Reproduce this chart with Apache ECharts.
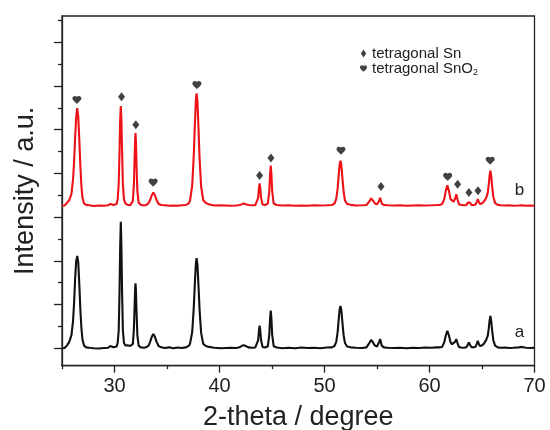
<!DOCTYPE html>
<html><head><meta charset="utf-8">
<script src="https://cdn.jsdelivr.net/npm/echarts@6/dist/echarts.min.js"></script>
<style>html,body{margin:0;padding:0;background:#fff}#c{width:550px;height:430px}</style>
</head><body><div id="c"></div>
<script>
// 2-theta positions (degree), shared by both patterns
const twoTheta = [25.0,25.25,25.5,25.7,25.9,26.05,26.15,26.25,26.35,26.45,26.55,26.65,26.75,26.85,26.95,27.1,27.3,27.6,28.0,28.5,
29.0,29.4,29.6,29.9,30.2,30.3,30.4,30.48,30.54,30.6,30.66,30.72,30.8,30.9,31.05,31.25,31.5,31.75,31.85,31.92,
31.96,32.0,32.04,32.1,32.18,32.3,32.5,32.8,33.0,33.25,33.4,33.55,33.7,33.85,34.0,34.2,34.45,34.8,35.2,35.6,
36.0,36.4,36.8,37.1,37.2,37.4,37.55,37.65,37.75,37.82,37.9,38.0,38.1,38.25,38.45,38.7,39.0,39.5,40.2,41.0,
41.6,41.9,42.1,42.3,42.5,42.75,43.1,43.4,43.55,43.68,43.76,43.82,43.88,43.96,44.1,44.35,44.6,44.74,44.82,44.88,
44.94,45.02,45.16,45.45,46.0,46.6,47.2,47.8,48.4,49.0,49.6,50.2,50.7,50.95,51.12,51.25,51.38,51.45,51.52,51.6,
51.7,51.82,51.95,52.15,52.5,53.0,53.6,54.0,54.1,54.3,54.45,54.6,54.8,55.0,55.15,55.24,55.3,55.36,55.45,55.65,
56.0,56.6,57.2,57.8,58.4,59.0,59.6,60.2,60.7,61.0,61.2,61.4,61.55,61.7,61.85,62.0,62.15,62.3,62.45,62.55,
62.65,62.8,63.0,63.3,63.5,63.65,63.75,63.85,64.0,64.2,64.4,64.52,64.6,64.68,64.8,65.0,65.2,65.4,65.55,65.65,
65.72,65.8,65.88,65.96,66.08,66.25,66.5,66.8,67.2,67.6,68.0,68.5,68.8,69.2,69.6,70.0];

// pattern b (red, offset upward)
const intensityB = [3.66,3.665,3.73,3.79,3.93,4.26,4.66,5.21,5.68,5.89,5.69,5.16,4.56,4.11,3.84,3.71,3.68,3.67,3.655,3.665,
3.66,3.67,3.70,3.675,3.70,3.80,4.16,4.91,5.60,5.94,5.60,4.91,4.16,3.80,3.71,3.68,3.67,3.77,4.16,4.79,
5.15,5.32,5.15,4.57,3.98,3.73,3.68,3.665,3.675,3.72,3.795,3.90,3.96,3.90,3.795,3.70,3.675,3.67,3.66,3.665,
3.66,3.67,3.675,3.72,3.79,4.12,4.82,5.48,6.08,6.23,6.05,5.43,4.76,4.10,3.79,3.72,3.69,3.665,3.67,3.66,
3.665,3.675,3.69,3.71,3.695,3.675,3.67,3.67,3.69,3.84,4.07,4.17,4.07,3.84,3.69,3.675,3.71,3.98,4.40,4.58,
4.40,3.98,3.71,3.675,3.665,3.67,3.66,3.665,3.66,3.67,3.665,3.67,3.675,3.71,3.815,4.05,4.44,4.62,4.69,4.60,
4.31,3.98,3.78,3.70,3.68,3.665,3.67,3.675,3.69,3.77,3.83,3.78,3.71,3.69,3.71,3.79,3.84,3.79,3.71,3.68,
3.67,3.665,3.67,3.66,3.665,3.67,3.665,3.67,3.675,3.68,3.695,3.81,4.00,4.13,4.00,3.81,3.77,3.75,3.83,3.92,
3.82,3.70,3.675,3.67,3.675,3.73,3.775,3.73,3.68,3.675,3.69,3.76,3.81,3.76,3.70,3.71,3.76,3.84,3.96,4.16,
4.34,4.46,4.34,4.12,3.86,3.72,3.68,3.67,3.665,3.67,3.66,3.665,3.67,3.66,3.665,3.66];

// pattern a (black, bottom)
const intensityA = [0.40,0.405,0.47,0.55,0.70,1.02,1.43,1.98,2.39,2.51,2.36,1.85,1.28,0.85,0.60,0.46,0.42,0.41,0.40,0.395,
0.405,0.41,0.45,0.42,0.44,0.52,0.80,1.70,2.71,3.29,2.71,1.70,0.80,0.52,0.46,0.47,0.45,0.50,0.85,1.41,
1.74,1.885,1.74,1.22,0.69,0.46,0.42,0.41,0.42,0.46,0.55,0.66,0.725,0.66,0.55,0.45,0.42,0.405,0.42,0.40,
0.415,0.405,0.42,0.46,0.51,0.77,1.33,1.86,2.34,2.46,2.32,1.82,1.29,0.75,0.50,0.45,0.43,0.41,0.40,0.41,
0.405,0.42,0.45,0.47,0.45,0.42,0.41,0.415,0.43,0.58,0.81,0.915,0.81,0.58,0.43,0.415,0.445,0.70,1.09,1.26,
1.09,0.70,0.445,0.415,0.40,0.41,0.40,0.415,0.405,0.41,0.40,0.415,0.42,0.45,0.545,0.77,1.13,1.30,1.366,1.28,
1.01,0.70,0.52,0.44,0.42,0.41,0.405,0.42,0.44,0.53,0.59,0.54,0.46,0.44,0.47,0.56,0.61,0.55,0.46,0.42,
0.41,0.405,0.41,0.40,0.41,0.405,0.415,0.41,0.42,0.42,0.43,0.53,0.69,0.80,0.69,0.54,0.49,0.48,0.55,0.61,
0.53,0.43,0.415,0.41,0.42,0.48,0.535,0.48,0.425,0.42,0.435,0.51,0.57,0.51,0.45,0.46,0.51,0.59,0.69,0.86,
1.03,1.14,1.02,0.82,0.58,0.46,0.42,0.41,0.415,0.405,0.41,0.42,0.43,0.41,0.405,0.41];

// phase markers above pattern b: [2-theta, height]
const snMarks = [[30.67,6.15],[32.03,5.51],[43.82,4.35],[44.9,4.75],[55.38,4.10],[62.68,4.15],[63.75,3.96],[64.62,4.00]];
const sno2Marks = [[26.42,6.08],[33.68,4.19],[37.85,6.42],[51.57,4.92],[61.73,4.32],[65.78,4.69]];

const xLabelTicks = [30,40,50,60,70];
const xMinorTicks = [25,35,45,55,65];
const yMajorTicks = [0.4,1.4,2.4,3.4,4.4,5.4,6.4,7.4];
const yMinorTicks = [0.9,1.9,2.9,3.9,4.9,5.9,6.9,7.9];

const heart = 'path://M12 21.35l-1.45-1.32C5.4 15.36 2 12.28 2 8.5 2 5.42 4.42 3 7.5 3c1.74 0 3.41.81 4.5 2.09C13.09 3.81 14.76 3 16.5 3 19.58 3 22 5.42 22 8.5c0 3.78-3.4 6.86-8.55 11.54L12 21.35z';
const diamond = 'path://M3 0L6 4.5L3 9L0 4.5Z';
const FONT = 'Liberation Sans, Arial, sans-serif';
const INK = '#222';

const chart = echarts.init(document.getElementById('c'), null, {renderer:'canvas'});
const pairs = ys => twoTheta.map((x,i)=>[x, ys[i]]);
chart.setOption({
  animation:false,
  backgroundColor:'#fff',
  textStyle:{fontFamily:FONT},
  grid:{left:62, right:15.5, top:16, bottom:64.3, containLabel:false, outerBoundsMode:'none',
        show:true, borderColor:INK, borderWidth:1.3, backgroundColor:'transparent'},
  legend:{
    orient:'vertical', left:355, top:41, itemWidth:7, itemHeight:8, itemGap:0,
    data:[{name:'tetragonal Sn', icon:diamond},{name:'tetragonal SnO2', icon:heart}],
    formatter: n => n==='tetragonal SnO2' ? '{n|tetragonal SnO}{s|2}' : '{n|tetragonal Sn}',
    textStyle:{color:INK, fontFamily:FONT, rich:{n:{fontSize:15, color:INK, fontFamily:FONT}, s:{fontSize:9, color:INK, fontFamily:FONT, padding:[9,0,0,0]}}},
    selectedMode:false
  },
  xAxis:[{
    type:'value', min:25, max:70, interval:5,
    name:'2-theta / degree', nameLocation:'middle', nameGap:38,
    nameTextStyle:{fontSize:27, color:INK, fontFamily:FONT},
    axisLine:{show:true, lineStyle:{color:INK, width:1.3}},
    axisTick:{show:true, inside:false, length:7, customValues:xLabelTicks, lineStyle:{color:INK, width:1.3}},
    axisLabel:{customValues:xLabelTicks, fontSize:20, color:INK, margin:11, fontFamily:FONT},
    splitLine:{show:false}
  },{
    type:'value', min:25, max:70, gridIndex:0, position:'bottom',
    axisLine:{show:false},
    axisTick:{show:true, inside:false, length:3.5, customValues:xMinorTicks, lineStyle:{color:INK, width:1.3}},
    axisLabel:{show:false}, splitLine:{show:false}
  }],
  yAxis:[{
    type:'value', min:0, max:8,
    name:'Intensity / a.u.', nameLocation:'middle', nameGap:23,
    nameTextStyle:{fontSize:27, color:INK, fontFamily:FONT},
    axisLine:{show:true, lineStyle:{color:INK, width:1.3}},
    axisTick:{show:true, inside:false, length:8, customValues:yMajorTicks, lineStyle:{color:INK, width:1.3}},
    axisLabel:{show:false}, splitLine:{show:false}
  },{
    type:'value', min:0, max:8, gridIndex:0, position:'left',
    axisLine:{show:false},
    axisTick:{show:true, inside:false, length:4, customValues:yMinorTicks, lineStyle:{color:INK, width:1.3}},
    axisLabel:{show:false}, splitLine:{show:false}
  }],
  series:[
    {name:'a', type:'line', data:pairs(intensityA), showSymbol:false, symbol:'none',
     lineStyle:{color:'#111', width:2.1}, z:3,
     endLabel:{show:true, formatter:'a', fontSize:17, color:INK, fontFamily:FONT, align:'center', verticalAlign:'middle', distance:0, offset:[-15,-15]}},
    {name:'b', type:'line', data:pairs(intensityB), showSymbol:false, symbol:'none',
     lineStyle:{color:'#ec1218', width:2.1}, z:3,
     endLabel:{show:true, formatter:'b', fontSize:17, color:INK, fontFamily:FONT, align:'center', verticalAlign:'middle', distance:0, offset:[-15,-15]}},
    {name:'tetragonal Sn', type:'scatter', data:snMarks, symbol:diamond, symbolSize:[7,9], itemStyle:{color:'#111'}, z:4},
    {name:'tetragonal SnO2', type:'scatter', data:sno2Marks, symbol:heart, symbolSize:[9,8], symbolKeepAspect:false, itemStyle:{color:'#111'}, z:4}
  ]
});
</script></body></html>
